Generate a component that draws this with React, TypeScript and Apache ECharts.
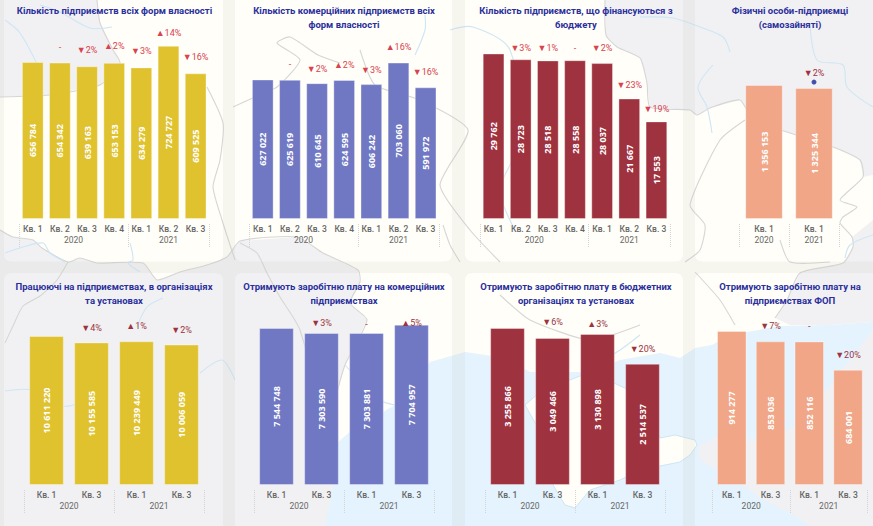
import React, { useEffect, useRef } from "react";
import * as echarts from "echarts";

const q7 = ["Кв. 1", "Кв. 2", "Кв. 3", "Кв. 4", "Кв. 1", "Кв. 2", "Кв. 3"];
const q4 = ["Кв. 1", "Кв. 3", "Кв. 1", "Кв. 3"];
const q2 = ["Кв. 1", "Кв. 1"];
const years = ["2020", "2021"];

const titles = [
  "Кількість підприємств всіх форм власності",
  "Кількість комерційних підприємств всіх\nформ власності",
  "Кількість підприємств, що фінансуються з\nбюджету",
  "Фізичні особи-підприємці\n(самозайняті)",
  "Працюючі на підприємствах, в організаціях\nта установах",
  "Отримують заробітню плату на комерційних\nпідприємствах",
  "Отримують заробітню плату в бюджетних\nорганізаціях та установах",
  "Отримують заробітню плату на\nпідприємствах ФОП",
];

const v1 = [656784, 654342, 639163, 653153, 634279, 724727, 609525];
const v2 = [627022, 625619, 610645, 624595, 606242, 703060, 591972];
const v3 = [29762, 28723, 28518, 28558, 28037, 21667, 17553];
const v4 = [1356153, 1325344];
const v5 = [10611220, 10155585, 10239449, 10006059];
const v6 = [7544748, 7303590, 7303881, 7704957];
const v7 = [3255866, 3049466, 3130898, 2514537];
const v8 = [914277, 853036, 852116, 684001];

const d1 = ["", "-", "▼2%", "▲2%", "▼3%", "▲14%", "▼16%"];
const d2 = ["", "-", "▼2%", "▲2%", "▼3%", "▲16%", "▼16%"];
const d3 = ["", "▼3%", "▼1%", "-", "▼2%", "▼23%", "▼19%"];
const d4 = ["", "▼2%"];
const d5 = ["", "▼4%", "▲1%", "▼2%"];
const d6 = ["", "▼3%", "-", "▲5%"];
const d7 = ["", "▼6%", "▲3%", "▼20%"];
const d8 = ["", "▼7%", "-", "▼20%"];

const YELLOW = "#e0c22f";
const BLUE = "#7078c3";
const RED = "#9f323f";
const SALMON = "#f0a687";
const DELTA_BRIGHT = "#d9424f";
const DELTA_DARK = "#9c3342";

const panels = [
  { cats: q7, split: [4, 3], v: v1, d: d1, c: YELLOW, dc: DELTA_BRIGHT, l: 19.2, w: 190, t: 30, h: 189, max: 790660, gap: "20%", lift: [10, 11, 12, 12, 12, 8, 12], tx: 114.5, ty: 3 },
  { cats: q7, split: [4, 3], v: v2, d: d2, c: BLUE, dc: DELTA_BRIGHT, l: 249.2, w: 190, t: 30, h: 189, max: 849500, gap: "20%", lift: [10, 11, 10, 11, 10, 11, 11], tx: 344, ty: 3 },
  { cats: q7, split: [4, 3], v: v3, d: d3, c: RED, dc: DELTA_BRIGHT, l: 480, w: 190, t: 30, h: 189, max: 33987, gap: "20%", lift: [10, 7, 8, 8, 11, 9, 8], tx: 576, ty: 3 },
  { cats: q2, split: [1, 1], v: v4, d: d4, c: SALMON, dc: DELTA_DARK, l: 739, w: 100, t: 30, h: 189, max: 1912800, gap: "25%", lift: [10, 11], tx: 790, ty: 3 },
  { cats: q4, split: [2, 2], v: v5, d: d5, c: YELLOW, dc: DELTA_DARK, l: 24, w: 180, t: 300, h: 185, max: 13175000, gap: "23%", lift: [10, 10, 11, 10], tx: 114, ty: 279 },
  { cats: q4, split: [2, 2], v: v6, d: d6, c: BLUE, dc: DELTA_DARK, l: 254, w: 180, t: 300, h: 185, max: 8890000, gap: "23%", lift: [10, 6, 5, -3], tx: 344, ty: 279 },
  { cats: q4, split: [2, 2], v: v7, d: d7, c: RED, dc: DELTA_DARK, l: 485, w: 180, t: 300, h: 185, max: 3836500, gap: "23%", lift: [10, 11, 6, 10], tx: 576, ty: 279 },
  { cats: q4, split: [2, 2], v: v8, d: d8, c: SALMON, dc: DELTA_DARK, l: 712.4, w: 155, t: 300, h: 185, max: 1098300, gap: "24%", lift: [10, 11, 11, 10], tx: 790, ty: 279 },
];

const FONT = "Roboto, 'Noto Sans', sans-serif";
const fmt = (n: number) => String(n).replace(/\B(?=(\d{3})+$)/g, " ");

const GREY = "#f1f1f3";
const SEA = "#e4f3fd";
const LAND = "#fffef8";
const BORDER = "#d6d6d6";
const RIVER = "#cde6f6";

const seaAreas = [
  [[335, 445], [352, 430], [395, 405], [430, 362], [465, 352], [505, 358], [530, 372], [590, 372], [620, 360], [660, 353], [680, 358], [695, 348], [712, 345], [730, 335], [780, 326], [830, 325], [873, 322], [873, 526], [325, 526]],
];
const greyAreas = [
  [[0, 0], [97, 0], [100, 23], [113, 50], [120, 63], [100, 85], [50, 95], [0, 97]],
  [[605, 0], [873, 0], [873, 175], [863, 177], [860, 160], [833, 147], [787, 132], [753, 120], [740, 100], [710, 108], [697, 115], [690, 110], [650, 107], [647, 83], [640, 58], [617, 47], [606, 35]],
  [[0, 230], [13, 237], [33, 240], [42, 248], [68, 262], [80, 258], [97, 263], [143, 263], [157, 280], [180, 272], [207, 265], [227, 257], [240, 241], [297, 237], [323, 253], [358, 270], [360, 282], [350, 303], [367, 320], [345, 365], [335, 400], [335, 445], [335, 480], [325, 526], [0, 526]],
  [[873, 220], [852, 237], [853, 247], [843, 263], [800, 273], [787, 300], [775, 318], [790, 325], [830, 325], [873, 322], [873, 526], [810, 526], [790, 513], [763, 500], [743, 485], [700, 460], [698, 447], [717, 437], [760, 440], [800, 425], [873, 330]],
];
const crimea = [[525, 405], [540, 392], [590, 372], [640, 395], [660, 438], [675, 435], [695, 440], [697, 445], [690, 455], [680, 462], [665, 465], [640, 470], [620, 480], [590, 490], [575, 508], [565, 505], [553, 485], [545, 440]];
const borders = [
  [[97, 0], [100, 23], [113, 50], [120, 63], [100, 85], [50, 95], [0, 97]],
  [[605, 0], [606, 35], [617, 47], [640, 58], [647, 83], [650, 107], [690, 110], [697, 115], [710, 108], [740, 100], [753, 120], [787, 132], [833, 147], [860, 160], [863, 177], [840, 200], [857, 207], [843, 217], [840, 223], [852, 237], [853, 247], [843, 263], [800, 273], [787, 300], [775, 318]],
  [[0, 230], [13, 237], [33, 240], [42, 248], [68, 262], [80, 258], [97, 263], [143, 263], [157, 280], [180, 272], [207, 265], [227, 257], [240, 241], [297, 237], [323, 253], [358, 270], [360, 282], [350, 303], [367, 320], [345, 365], [335, 400]],
  [[240, 243], [257, 253], [267, 273], [280, 297], [293, 317], [300, 330], [320, 400], [330, 440]],
  [[5, 343], [13, 326], [23, 306], [40, 296], [57, 280], [68, 262]],
  [[207, 87], [223, 123], [220, 160], [213, 187], [222, 220], [235, 260]],
  [[233, 107], [255, 97], [277, 87], [300, 60], [277, 43], [290, 37], [318, 55], [340, 63]],
  [[360, 50], [375, 85], [420, 100], [468, 130], [440, 185], [470, 230], [500, 262]],
  [[443, 225], [450, 245], [460, 262]],
  [[685, 262], [700, 250], [705, 225], [690, 205], [720, 140], [745, 120]],
  [[695, 272], [720, 300], [735, 325]],
  [[780, 240], [790, 262], [830, 262]],
  [[500, 295], [530, 320], [590, 340], [640, 325]],
];
const rivers = [
  [[5, 20], [20, 33], [40, 70]],
  [[40, 5], [60, 12], [90, 28], [112, 27]],
  [[5, 253], [23, 247], [43, 243], [50, 253], [65, 262]],
  [[130, 243], [133, 260], [128, 263], [140, 272]],
  [[163, 298], [147, 307], [137, 327]],
  [[5, 391], [33, 390], [63, 406], [80, 403]],
  [[200, 373], [222, 360], [235, 380]],
  [[640, 17], [673, 18], [700, 27], [723, 37], [730, 52]],
  [[713, 65], [698, 87], [707, 107], [712, 133]],
  [[810, 23], [817, 60], [843, 65], [847, 87], [873, 107]],
  [[415, 55], [425, 30], [425, 15]],
  [[450, 30], [473, 27], [510, 50], [520, 140], [500, 190], [515, 230]],
  [[345, 365], [380, 400], [395, 405]],
  [[585, 372], [620, 350], [640, 335]],
  [[873, 235], [850, 245], [845, 258]],
];
const cards = [
  [4, -10, 219, 271.5],
  [235, -10, 217, 271.5],
  [465, -10, 218, 271.5],
  [695, -10, 190, 271.5],
  [4, 273, 219, 263],
  [235, 273, 217, 263],
  [465, 273, 218, 263],
  [695, 273, 190, 263],
];

// Everything outside the rounded cards, with the cards cut out by reverse winding.
const RR = 8;
const gutterPath =
  "M0 0 L873 0 L873 526 L0 526 Z " +
  cards
    .map(([x, y, w, h]) => {
      const r = x + w;
      const b = y + h;
      return `M${x + RR} ${y} Q${x} ${y} ${x} ${y + RR} L${x} ${b - RR} Q${x} ${b} ${x + RR} ${b} L${r - RR} ${b} Q${r} ${b} ${r} ${b - RR} L${r} ${y + RR} Q${r} ${y} ${r - RR} ${y} Z`;
    })
    .join(" ");
echarts.graphic.registerShape("gutter", echarts.graphic.extendPath(gutterPath as any, {}) as any);

const background: any[] = [
  { type: "rect", z: 0, shape: { x: 0, y: 0, width: 873, height: 526 }, style: { fill: LAND } },
  ...seaAreas.map((points) => ({ type: "polygon", z: 0, shape: { points }, style: { fill: SEA } })),
  ...greyAreas.map((points) => ({ type: "polygon", z: 0, shape: { points }, style: { fill: GREY } })),
  { type: "polygon", z: 0, shape: { points: crimea }, style: { fill: LAND, stroke: RIVER, lineWidth: 1 } },
  ...borders.map((points) => ({ type: "polyline", z: 0, shape: { points, smooth: 0.2 }, style: { stroke: BORDER, fill: "none", lineWidth: 1.1 } })),
  ...rivers.map((points) => ({ type: "polyline", z: 0, shape: { points, smooth: 0.3 }, style: { stroke: RIVER, fill: "none", lineWidth: 1.1 } })),
  { type: "gutter", z: 0, style: { fill: "rgba(190,190,175,0.12)" } },
];

function buildOption() {
  const grid: any[] = [];
  const xAxis: any[] = [];
  const yAxis: any[] = [];
  const series: any[] = [];
  const title: any[] = [];
  panels.forEach((p, i) => {
    const n = p.cats.length;
    grid.push({ left: p.l, width: p.w, top: p.t, height: p.h });
    title.push({
      text: titles[i],
      left: p.tx,
      top: p.ty,
      padding: 0,
      textAlign: "center",
      textStyle: { fontFamily: FONT, fontSize: 9.5, fontWeight: 700, color: "#2a2f9c", lineHeight: 14 },
    });
    xAxis.push({
      type: "category",
      gridIndex: i,
      data: p.cats,
      axisLine: { show: false },
      axisTick: { show: false },
      axisLabel: { interval: 0, margin: 5, fontFamily: FONT, fontSize: 8.5, fontWeight: 500, color: "#666666" },
    });
    const [a, b] = p.split;
    const yearTicks = [a / 2, a + b / 2];
    xAxis.push({
      type: "value",
      gridIndex: i,
      position: "bottom",
      offset: 5,
      min: 0,
      max: n,
      axisLine: { show: false },
      splitLine: { show: false },
      axisTick: {
        show: true,
        length: 24,
        customValues: [0, a, a + b],
        lineStyle: { color: "#d4d4d4", type: "dotted", width: 1 },
      },
      axisLabel: {
        show: true,
        margin: 11,
        customValues: yearTicks,
        showMinLabel: true,
        showMaxLabel: true,
        formatter: (val: number) => years[yearTicks.indexOf(val)] ?? "",
        fontFamily: FONT,
        fontSize: 8.5,
        color: "#666666",
      },
    });
    yAxis.push({ type: "value", gridIndex: i, min: 0, max: p.max, show: false });
    const xi = i * 2;
    series.push({
      type: "bar",
      xAxisIndex: xi,
      yAxisIndex: i,
      barCategoryGap: p.gap,
      barGap: "-100%",
      data: p.v,
      itemStyle: { color: p.c, borderColor: "rgba(255,255,255,0.35)", borderWidth: 1 },
      label: {
        show: true,
        position: "inside",
        rotate: 90,
        formatter: (x: any) => fmt(x.value),
        color: "#ffffff",
        fontFamily: "'Open Sans', sans-serif",
        fontSize: 9,
        fontWeight: 700,
      },
    });
    series.push({
      type: "bar",
      xAxisIndex: xi,
      yAxisIndex: i,
      barCategoryGap: p.gap,
      barGap: "-100%",
      silent: true,
      itemStyle: { color: "transparent" },
      data: p.v.map((value, k) => ({
        value,
        label: {
          show: true,
          position: "top",
          distance: p.lift[k],
          formatter: p.d[k],
          color: p.dc,
          fontFamily: FONT,
          fontSize: 9,
        },
      })),
    });
    if (i === 3) {
      series.push({
        type: "scatter",
        xAxisIndex: xi,
        yAxisIndex: i,
        symbolSize: 5,
        symbolOffset: [0, -6],
        itemStyle: { color: "#16289a" },
        data: [[p.cats.length - 1, p.v[1]]],
      });
    }
  });
  return { animation: false, backgroundColor: "transparent", graphic: { elements: background }, title, grid, xAxis, yAxis, series };
}

export default function App() {
  const ref = useRef<HTMLDivElement>(null);
  useEffect(() => {
    document.body.style.margin = "0";
    const chart = echarts.init(ref.current!, null, { renderer: "svg" });
    chart.setOption(buildOption() as any);
    return () => chart.dispose();
  }, []);
  return <div ref={ref} style={{ width: 873, height: 526 }} />;
}
